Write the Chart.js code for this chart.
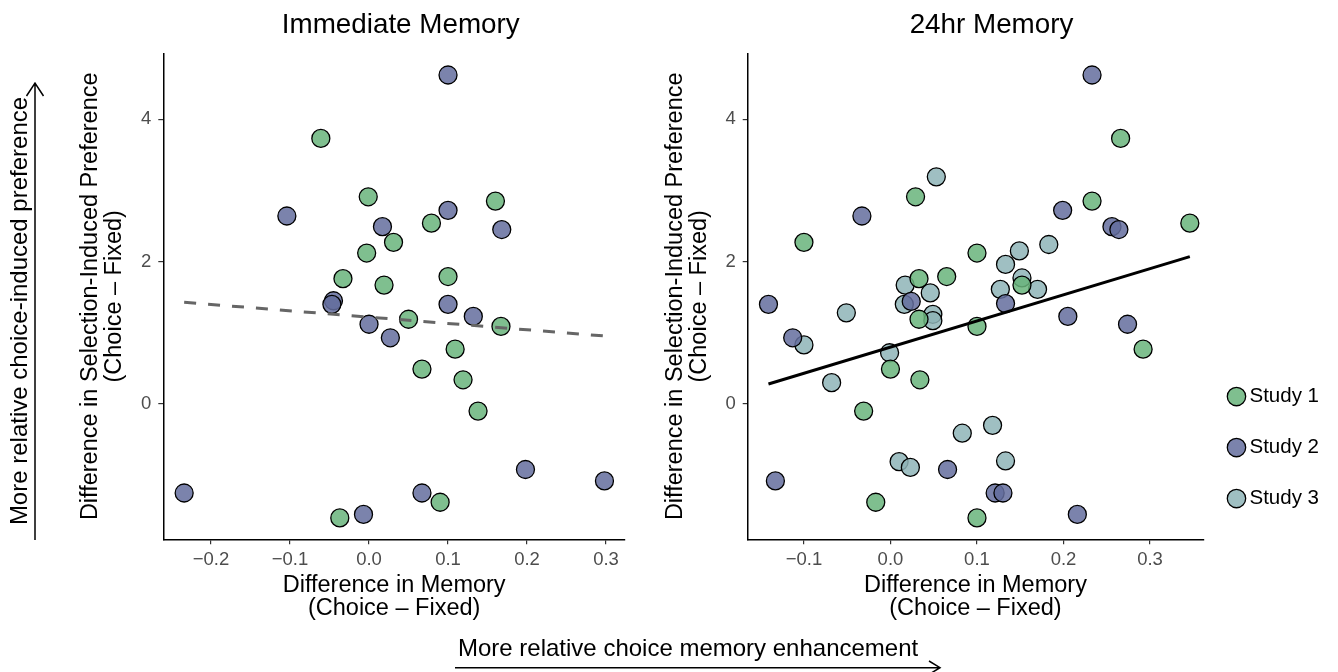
<!DOCTYPE html>
<html>
<head>
<meta charset="utf-8">
<script src="https://cdn.jsdelivr.net/npm/chart.js@4.4.1/dist/chart.umd.min.js"></script>
<style>
html,body{margin:0;padding:0;background:#fff;overflow:hidden;}
#wrap{position:relative;width:1338px;height:672px;font-family:"Liberation Sans",Arial,sans-serif;color:#000;}
canvas{position:absolute;top:0;}
#c1{left:0;}
#c2{left:654px;}
.note{position:absolute;font-size:24px;white-space:nowrap;line-height:1;}
#noteY{left:19px;top:310.5px;transform:translate(-50%,-50%) rotate(-90deg);}
#noteX{left:458px;top:635.7px;}
svg{position:absolute;left:0;top:0;pointer-events:none;}
</style>
</head>
<body>
<div id="wrap">
<canvas id="c1" width="654" height="672"></canvas>
<canvas id="c2" width="684" height="672"></canvas>
<svg width="1338" height="672">
  <path d="M35 540 V83 M26.5 96 L35 83 L43.5 96" stroke="#000" stroke-width="1.5" fill="none"/>
  <path d="M455 667.7 H940 M929 661 L940 667.7 L929 674.4" stroke="#000" stroke-width="1.5" fill="none"/>
</svg>
<div class="note" id="noteY">More relative choice-induced preference</div>
<div class="note" id="noteX">More relative choice memory enhancement</div>
</div>
<script>
// ---- data ----
const seriesNames = ['Study 1', 'Study 2', 'Study 3'];
const panelTitles = ['Immediate Memory', '24hr Memory'];

// Immediate memory panel
const imm1X = [-0.061, -0.001, 0.160, 0.079, 0.031, -0.003, -0.033, 0.100, 0.019, 0.050, 0.167, 0.109, 0.067, 0.119, 0.138, 0.090, -0.037];
const imm1Y = [3.73, 2.91, 2.85, 2.54, 2.27, 2.12, 1.76, 1.79, 1.67, 1.19, 1.09, 0.77, 0.49, 0.34, -0.10, -1.38, -1.60];
const imm2X = [0.100, -0.104, 0.100, 0.017, 0.168, -0.045, -0.047, 0.100, 0.132, 0.000, 0.027, 0.198, 0.298, -0.234, 0.067, -0.007];
const imm2Y = [4.62, 2.64, 2.72, 2.49, 2.45, 1.45, 1.40, 1.40, 1.23, 1.12, 0.93, -0.92, -1.08, -1.25, -1.25, -1.55];
const immFitX = [-0.234, 0.298];
const immFitY = [1.428, 0.955];

// 24hr memory panel
const day1X = [0.266, 0.029, 0.233, 0.346, -0.100, 0.100, 0.065, 0.033, 0.152, 0.033, 0.100, 0.292, 0.000, 0.034, -0.031, -0.017, 0.100];
const day1Y = [3.73, 2.91, 2.85, 2.54, 2.27, 2.12, 1.79, 1.76, 1.67, 1.19, 1.09, 0.77, 0.49, 0.34, -0.10, -1.38, -1.60];
const day2X = [0.233, -0.033, 0.199, 0.256, 0.264, -0.141, 0.024, 0.133, 0.205, 0.274, -0.113, 0.066, -0.133, 0.121, 0.130, 0.216];
const day2Y = [4.62, 2.64, 2.72, 2.49, 2.45, 1.40, 1.44, 1.41, 1.23, 1.12, 0.93, -0.92, -1.08, -1.25, -1.25, -1.55];
const day3X = [0.053, 0.183, 0.149, 0.133, 0.152, 0.017, 0.170, 0.127, 0.046, -0.051, 0.016, 0.049, 0.049, -0.100, -0.001, -0.068, 0.118, 0.083, 0.133, 0.010, 0.023];
const day3Y = [3.19, 2.24, 2.15, 1.96, 1.77, 1.67, 1.61, 1.61, 1.56, 1.28, 1.40, 1.26, 1.17, 0.83, 0.72, 0.30, -0.30, -0.41, -0.80, -0.81, -0.89];
const dayFitX = [-0.141, 0.346];
const dayFitY = [0.281, 2.069];

// tick labels
const immXTicks = [-0.2, -0.1, 0.0, 0.1, 0.2, 0.3];
const dayXTicks = [-0.1, 0.0, 0.1, 0.2, 0.3];
const yTicks = [0, 2, 4];
const xTitle = ['Difference in Memory', '(Choice \u2013 Fixed)'];
const yTitle = ['Difference in Selection-Induced Preference', '(Choice \u2013 Fixed)'];

// ---- styling ----
const FAM = '"Liberation Sans", Arial, sans-serif';
Chart.defaults.font.family = FAM;
Chart.defaults.color = '#000';
const fills = ['rgba(105,180,123,0.85)', 'rgba(100,109,158,0.85)', 'rgba(142,180,183,0.85)'];

const pairs = (xs, ys) => xs.map((x, i) => ({x: x, y: ys[i]}));

function pointSet(label, xs, ys, k) {
  return {
    label: label, data: pairs(xs, ys), showLine: false,
    backgroundColor: fills[k], borderColor: '#000', borderWidth: 1.3,
    pointRadius: 9, pointHoverRadius: 9, pointStyle: 'circle', order: 1
  };
}
function fitSet(xs, ys, color, dash) {
  return {
    type: 'line', label: 'fit', data: pairs(xs, ys),
    borderColor: color, borderWidth: 3, borderDash: dash, borderCapStyle: 'butt',
    pointRadius: 0, fill: false, order: 0
  };
}

const fmtX = v => (v < 0 ? '\u2212' : '') + Math.abs(v).toFixed(1);

function scales(xmin, xmax, xt, yWidth, yTitlePad) {
  const grid = {display: true, drawOnChartArea: false, drawTicks: true, tickLength: 5, color: '#333', tickColor: '#333', lineWidth: 1.2};
  const border = {display: true, color: '#000', width: 1.5};
  return {
    x: {
      type: 'linear', min: xmin, max: xmax,
      afterBuildTicks: s => { s.ticks = xt.map(v => ({value: v})); },
      afterFit: s => { s.height = 80; },
      grid: grid, border: border,
      ticks: {color: '#4d4d4d', font: {size: 18.5}, padding: 5, autoSkip: false, maxRotation: 0, callback: v => fmtX(v)},
      title: {display: true, text: xTitle, color: '#000', font: {size: 23.5, lineHeight: 0.96}, padding: {top: 0, bottom: 0}}
    },
    y: {
      type: 'linear', min: -1.9, max: 4.925,
      afterBuildTicks: s => { s.ticks = yTicks.map(v => ({value: v})); },
      afterFit: s => { s.width = yWidth; },
      grid: grid, border: border,
      ticks: {color: '#4d4d4d', font: {size: 18.5}, padding: 7, callback: v => String(v)},
      title: {display: true, text: yTitle, color: '#000', font: {size: 23.5, lineHeight: 1.02}, padding: {top: yTitlePad, bottom: 0}}
    }
  };
}

const titleNudge = {
  id: 'titleNudge',
  afterLayout(chart, args, opts) {
    const tb = chart.titleBlock;
    if (!tb || !opts || !opts.dx) return;
    tb.left += opts.dx; tb.right += opts.dx;
  }
};

new Chart(document.getElementById('c1'), {
  type: 'scatter',
  data: {
    datasets: [
      fitSet(immFitX, immFitY, '#666666', [12, 12]),
      pointSet(seriesNames[0], imm1X, imm1Y, 0),
      pointSet(seriesNames[1], imm2X, imm2Y, 1)
    ]
  },
  plugins: [titleNudge],
  options: {
    responsive: false, animation: false, events: [],
    layout: {padding: {left: 79, right: 29, top: 0, bottom: 52.7}},
    scales: scales(-0.2604, 0.324, immXTicks, 84.3, 0),
    plugins: {
      legend: {display: false},
      tooltip: {enabled: false},
      title: {display: true, text: panelTitles[0], fullSize: false, color: '#000',
              font: {size: 27.8, weight: 'normal', lineHeight: 1.2}, padding: {top: 8.3, bottom: 11.64}},
      titleNudge: {dx: 6.6}
    }
  }
});

new Chart(document.getElementById('c2'), {
  type: 'scatter',
  data: {
    datasets: [
      fitSet(dayFitX, dayFitY, '#000000', []),
      pointSet(seriesNames[0], day1X, day1Y, 0),
      pointSet(seriesNames[1], day2X, day2Y, 1),
      pointSet(seriesNames[2], day3X, day3Y, 2)
    ]
  },
  options: {
    responsive: false, animation: false, events: [],
    layout: {padding: {left: 0, right: 9, top: 0, bottom: 52.7}},
    scales: scales(-0.165, 0.3615, dayXTicks, 93.7, 9.7),
    plugins: {
      legend: {
        display: true, position: 'right', fullSize: false, align: 'end',
        labels: {
          usePointStyle: true, pointStyle: 'circle', boxWidth: 5.5, boxHeight: 13,
          padding: 30.5, color: '#000', font: {size: 20.5},
          filter: item => item.text !== 'fit'
        }
      },
      tooltip: {enabled: false},
      title: {display: true, text: panelTitles[1], color: '#000',
              font: {size: 27.8, weight: 'normal', lineHeight: 1.2}, padding: {top: 8.3, bottom: 11.64}}
    }
  }
});
</script>
</body>
</html>
